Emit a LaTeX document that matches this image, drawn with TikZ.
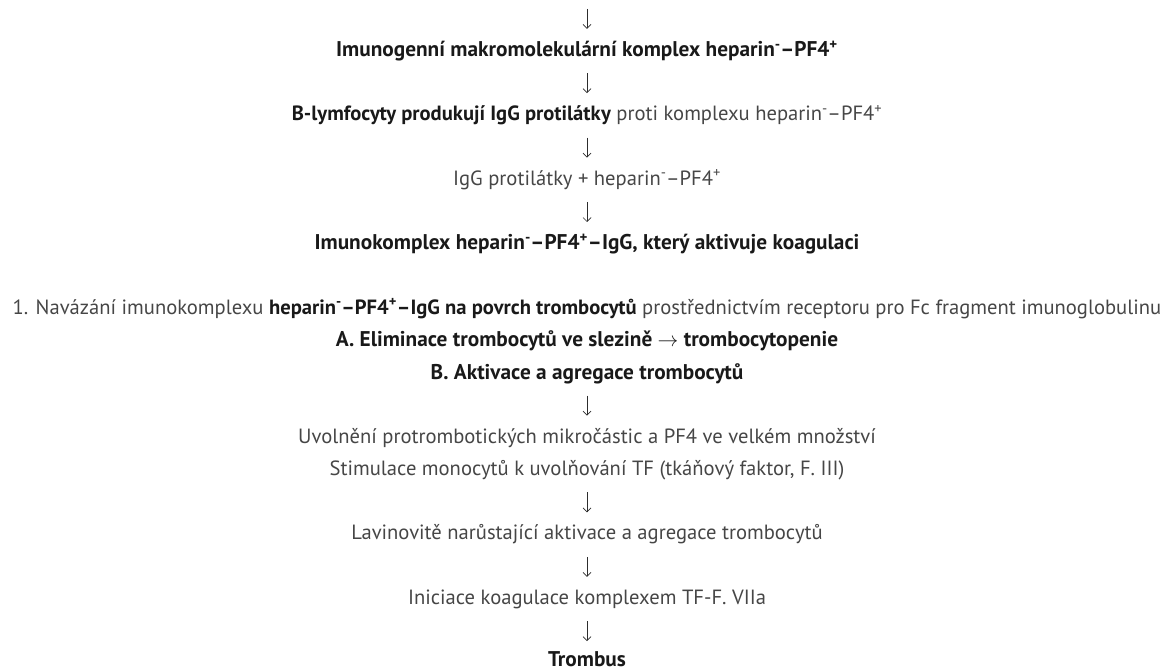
\documentclass[tikz,border=0pt]{standalone}
\usepackage{fontspec}
\setmainfont{PT Sans}
\usetikzlibrary{arrows.meta, positioning}
\definecolor{txtgray}{RGB}{70, 70, 70}
\definecolor{boldblack}{RGB}{25, 25, 25}
\definecolor{arrgray}{RGB}{45, 45, 45}
\newcommand{\bfpart}[1]{\textbf{\textcolor{boldblack}{#1}}}
\newcommand{\hepPF}{heparin\textsuperscript{-}\kern-0.5pt--PF4\textsuperscript{+}}

\begin{document}
\begin{tikzpicture}[x=1pt, y=-1pt,
  stepnode/.style={text=txtgray, font=\fontsize{20.6}{24}\selectfont, minimum height=44pt, inner sep=0pt, align=center},
  boldnode/.style={stepnode, font=\fontsize{21.3}{25}\selectfont\bfseries, text=boldblack},
  flow/.style={draw=arrgray, line width=0.7pt, -{Straight Barb[length=4pt, width=8pt, line width=0.7pt]}},
  node distance=20pt]
  \useasboundingbox (0,0) rectangle (1171,671);

  % upper chain
  \coordinate (topend) at (587, 9);
  \node[boldnode] (imun) at (587, 51) {Imunogenní makromolekulární komplex \hepPF};
  \node[stepnode, below=of imun] (blym) {\bfpart{B-lymfocyty produkují IgG protilátky} proti komplexu \hepPF};
  \node[stepnode, below=of blym] (igg) {IgG protilátky + \hepPF};
  \node[boldnode, below=of igg] (komplex) {Imunokomplex \hepPF--IgG, který aktivuje koagulaci};

  % binding to platelets
  \node[stepnode, below=of komplex] (navaz) {1. Navázání imunokomplexu \bfpart{\hepPF--IgG na povrch trombocytů} prostřednictvím receptoru pro Fc fragment imunoglobulinu};
  \node[boldnode, below=-12pt of navaz] (elim) {A. Eliminace trombocytů ve slezině $\rightarrow$ trombocytopenie};
  \node[boldnode, below=-12pt of elim] (aktiv) {B. Aktivace a agregace trombocytů};

  % lower chain
  \node[stepnode, below=of aktiv] (uvol) {Uvolnění protrombotických mikročástic a PF4 ve velkém množství};
  \node[stepnode, below=-12pt of uvol] (stim) {Stimulace monocytů k uvolňování TF (tkáňový faktor, F. III)};
  \node[stepnode, below=of stim] (lavin) {Lavinovitě narůstající aktivace a agregace trombocytů};
  \node[stepnode, below=of lavin] (inic) {Iniciace koagulace komplexem TF-F. VIIa};
  \node[boldnode, minimum height=0pt, below=30pt of inic] (trombus) {Trombus};

  % arrows
  \draw[flow] (topend) -- (imun.north);
  \draw[flow] (imun) -- (blym);
  \draw[flow] (blym) -- (igg);
  \draw[flow] (igg) -- (komplex);
  \draw[flow] (aktiv) -- (uvol);
  \draw[flow] (stim) -- (lavin);
  \draw[flow] (lavin) -- (inic);
  \draw[flow, shorten >=10pt] (inic) -- (trombus);
\end{tikzpicture}
\end{document}
